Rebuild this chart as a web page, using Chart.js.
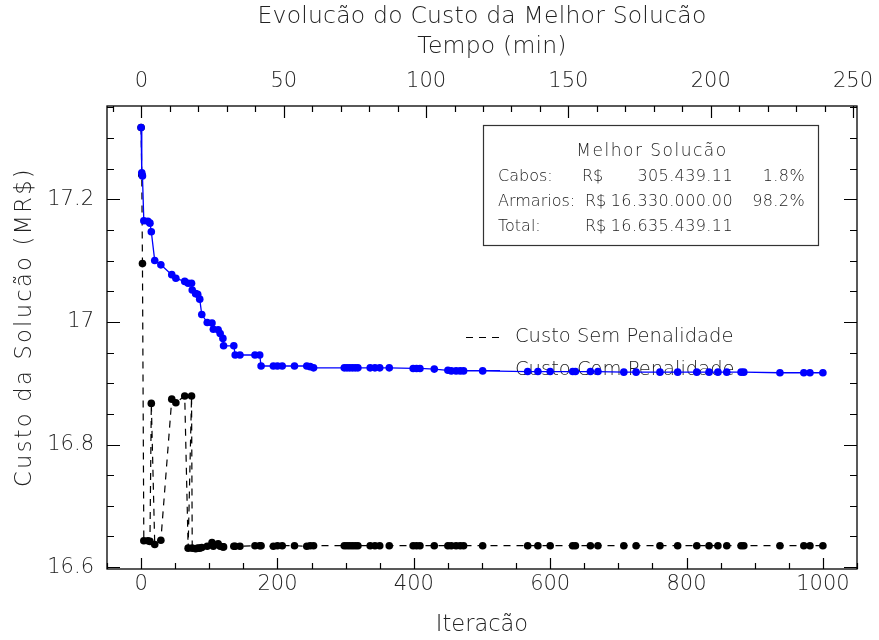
<!DOCTYPE html>
<html>
<head>
<meta charset="utf-8">
<script src="https://cdn.jsdelivr.net/npm/chart.js@4.4.1/dist/chart.umd.min.js"></script>
<style>
  body { margin: 0; background: #fff; }
  #wrap { width: 879px; height: 640px; }
</style>
</head>
<body>
<div id="wrap"><canvas id="myChart" width="879" height="640"></canvas></div>
<script>
// iteracoes em que a melhor solucao mudou
const iteracoes = [0, 1, 2, 4, 10, 13, 15, 20, 29, 45,
  51, 64, 69, 74, 75, 80, 83, 86, 89, 97,
  104, 106, 113, 116, 120, 121, 136, 138, 145, 167,
  174, 176, 194, 200, 207, 225, 243, 248, 253, 298,
  302, 306, 310, 314, 318, 336, 343, 350, 364, 399,
  404, 409, 430, 450, 455, 462, 468, 473, 501, 567,
  582, 600, 633, 637, 659, 670, 708, 726, 761, 787,
  815, 833, 846, 859, 880, 884, 937, 972, 981, 1000];
// custo (MR$) com penalidade
const custoCom = [17.317, 17.243, 17.238, 17.165, 17.164, 17.161, 17.147, 17.100, 17.093, 17.077,
  17.071, 17.066, 17.063, 17.063, 17.052, 17.046, 17.045, 17.037, 17.012, 16.999,
  16.998, 16.988, 16.987, 16.981, 16.973, 16.961, 16.961, 16.946, 16.946, 16.946,
  16.946, 16.928, 16.928, 16.928, 16.928, 16.928, 16.928, 16.927, 16.925, 16.925,
  16.925, 16.925, 16.925, 16.925, 16.925, 16.925, 16.925, 16.925, 16.925, 16.924,
  16.924, 16.924, 16.923, 16.921, 16.920, 16.920, 16.920, 16.920, 16.920, 16.919,
  16.919, 16.919, 16.919, 16.919, 16.919, 16.919, 16.918, 16.918, 16.918, 16.918,
  16.918, 16.918, 16.918, 16.918, 16.918, 16.918, 16.917, 16.917, 16.917, 16.917];
// custo (MR$) sem penalidade
const custoSem = [17.317, 17.240, 17.095, 16.643, 16.643, 16.642, 16.867, 16.637, 16.644, 16.874,
  16.868, 16.879, 16.631, 16.879, 16.631, 16.630, 16.631, 16.631, 16.632, 16.634,
  16.640, 16.634, 16.638, 16.634, 16.633, 16.633, 16.634, 16.634, 16.634, 16.635,
  16.635, 16.635, 16.634, 16.635, 16.635, 16.635, 16.634, 16.635, 16.635, 16.635,
  16.635, 16.635, 16.635, 16.635, 16.635, 16.635, 16.635, 16.635, 16.635, 16.635,
  16.635, 16.635, 16.635, 16.635, 16.635, 16.635, 16.635, 16.635, 16.635, 16.635,
  16.635, 16.635, 16.635, 16.635, 16.635, 16.635, 16.635, 16.635, 16.635, 16.635,
  16.635, 16.635, 16.635, 16.635, 16.635, 16.635, 16.635, 16.635, 16.635, 16.635];

const ticksIteracao = [0, 200, 400, 600, 800, 1000];
const ticksTempo = [0, 50, 100, 150, 200, 250];
const ticksCusto = [16.6, 16.8, 17, 17.2];

// quadro da melhor solucao
const resumoTitulo = "Melhor Solucão";
const resumoRotulos = ["Cabos:", "Armarios:", "Total:"];
const resumoValores = ["305.439.11", "16.330.000.00", "16.635.439.11"];
const resumoPercent = ["1.8%", "98.2%", ""];

const FONTE = "'DejaVu Sans', sans-serif";
const COR_TEXTO = "#222";

const pontos = (ys) => iteracoes.map((x, i) => ({ x: x, y: ys[i] }));

function fixaTicks(lista) {
  return (scale) => { scale.ticks = lista.map((v) => ({ value: v })); };
}

const molduraPlugin = {
  id: "moldura",
  beforeDatasetsDraw(chart) {
    const ctx = chart.ctx;
    ctx.save();
    ctx.font = "200 19.5px " + FONTE;
    ctx.fillStyle = COR_TEXTO;
    ctx.textBaseline = "middle";
    // legenda
    ctx.strokeStyle = "#000";
    ctx.lineWidth = 1.2;
    ctx.setLineDash([7, 6]);
    ctx.beginPath();
    ctx.moveTo(466, 337.5);
    ctx.lineTo(500, 337.5);
    ctx.stroke();
    ctx.setLineDash([]);
    ctx.strokeStyle = "#0000ff";
    ctx.beginPath();
    ctx.moveTo(466, 370.5);
    ctx.lineTo(500, 370.5);
    ctx.stroke();
    ctx.fillText("Custo Sem Penalidade", 515, 337);
    ctx.fillText("Custo Com Penalidade", 515, 370);
    ctx.restore();
  },
  afterDraw(chart) {
    const ctx = chart.ctx;
    const a = chart.chartArea;
    const sx = chart.scales.x, sx2 = chart.scales.x2, sy = chart.scales.y;
    ctx.save();
    ctx.strokeStyle = "#000";
    ctx.lineWidth = 1.3;
    ctx.strokeRect(a.left, a.top, a.right - a.left, a.bottom - a.top);

    ctx.lineWidth = 1.2;
    ctx.beginPath();
    // marcas do eixo de iteracoes (embaixo)
    for (let k = Math.ceil(sx.min / 50); k * 50 <= sx.max; k++) {
      const p = Math.round(sx.getPixelForValue(k * 50)) + 0.5;
      const len = k % 4 === 0 ? 11 : 6;
      ctx.moveTo(p, a.bottom);
      ctx.lineTo(p, a.bottom - len);
    }
    // marcas do eixo de tempo (em cima)
    for (let k = Math.ceil(sx2.min / 10); k * 10 <= sx2.max; k++) {
      const p = Math.round(sx2.getPixelForValue(k * 10)) + 0.5;
      const len = k % 5 === 0 ? 12 : 6;
      ctx.moveTo(p, a.top);
      ctx.lineTo(p, a.top + len);
    }
    // marcas do eixo de custo (esquerda e direita)
    for (let k = Math.ceil(sy.min / 0.05 - 1e-6); k * 0.05 <= sy.max + 1e-9; k++) {
      const p = Math.round(sy.getPixelForValue(k * 0.05)) + 0.5;
      const len = k % 4 === 0 ? 13 : 7;
      ctx.moveTo(a.left, p);
      ctx.lineTo(a.left + len, p);
      ctx.moveTo(a.right, p);
      ctx.lineTo(a.right - len, p);
    }
    ctx.stroke();

    // titulos
    ctx.fillStyle = COR_TEXTO;
    ctx.textBaseline = "middle";
    ctx.textAlign = "center";
    ctx.font = "200 23.5px " + FONTE;
    ctx.letterSpacing = "0.2px";
    ctx.fillText("Evolucão do Custo da Melhor Solucão", 482, 17);
    ctx.fillText("Tempo (min)", 492, 47);
    ctx.save();
    ctx.translate(25, 327);
    ctx.rotate(-Math.PI / 2);
    ctx.font = "200 22.5px " + FONTE;
    ctx.letterSpacing = "2.3px";
    ctx.fillText("Custo da Solucão (MR$)", 0, 0);
    ctx.restore();

    // quadro da melhor solucao
    ctx.lineWidth = 1.2;
    ctx.strokeStyle = "#333";
    ctx.strokeRect(483.5, 125.5, 335, 120);
    ctx.textAlign = "center";
    ctx.font = "200 17px " + FONTE;
    ctx.letterSpacing = "1.5px";
    ctx.fillText(resumoTitulo, 652, 152);
    ctx.font = "200 16px " + FONTE;
    const linhas = [177, 202, 227];
    resumoRotulos.forEach((r, i) => {
      ctx.textAlign = "left";
      ctx.letterSpacing = "0px";
      ctx.fillText(r, 498, linhas[i]);
      ctx.fillText("R$", i === 0 ? 582 : 585, linhas[i]);
      ctx.textAlign = "right";
      ctx.letterSpacing = "0.4px";
      ctx.fillText(resumoValores[i], 733, linhas[i]);
      ctx.fillText(resumoPercent[i], 805, linhas[i]);
    });
    ctx.restore();
  },
};

const data = {
  datasets: [
    {
      label: "Custo Sem Penalidade",
      data: pontos(custoSem),
      borderColor: "#000",
      backgroundColor: "#000",
      borderWidth: 1.2,
      borderDash: [7, 6],
      pointRadius: 3.8,
      pointBorderWidth: 0,
      order: 1,
    },
    {
      label: "Custo Com Penalidade",
      data: pontos(custoCom),
      borderColor: "#0000ff",
      backgroundColor: "#0000ff",
      borderWidth: 1.3,
      pointRadius: 3.8,
      pointBorderWidth: 0,
      order: 0,
    },
  ],
};

const fonteTicks = { family: FONTE, size: 21, weight: "200" };
const fonteTitulo = { family: FONTE, size: 22.5, weight: "200" };

const config = {
  type: "line",
  data: data,
  plugins: [molduraPlugin],
  options: {
    responsive: false,
    animation: false,
    layout: { padding: 0 },
    plugins: { legend: { display: false }, tooltip: { enabled: false } },
    scales: {
      x: {
        type: "linear",
        position: "bottom",
        min: -50,
        max: 1050,
        afterBuildTicks: fixaTicks(ticksIteracao),
        afterFit: (s) => { s.height = 71; },
        grid: { display: false, drawTicks: false },
        border: { display: false },
        ticks: { color: COR_TEXTO, font: fonteTicks, padding: 3, maxRotation: 0, callback: (v) => String(v) },
        title: { display: true, text: "Iteracão", color: COR_TEXTO, font: fonteTitulo, padding: { top: 0, bottom: 1 } },
      },
      x2: {
        type: "linear",
        position: "top",
        min: -12.1,
        max: 251.4,
        afterBuildTicks: fixaTicks(ticksTempo),
        afterFit: (s) => { s.height = 106; },
        // espaco entre rotulos e moldura vem do tickLength (marcas desenhadas no plugin)
        grid: { display: false, drawTicks: true, tickLength: 12 },
        border: { display: false },
        ticks: { color: COR_TEXTO, font: fonteTicks, padding: 0, maxRotation: 0, callback: (v) => String(v) },
      },
      y: {
        type: "linear",
        position: "left",
        min: 16.597,
        max: 17.352,
        afterBuildTicks: fixaTicks(ticksCusto),
        afterFit: (s) => { s.width = 107; },
        grid: { display: false, drawTicks: false },
        border: { display: false },
        ticks: { color: COR_TEXTO, font: fonteTicks, padding: 13, callback: (v) => String(+v.toFixed(1)) },
      },
      y2: {
        type: "linear",
        position: "right",
        min: 16.597,
        max: 17.352,
        afterFit: (s) => { s.width = 22; },
        grid: { display: false, drawTicks: false },
        border: { display: false },
        ticks: { display: false },
      },
    },
  },
};

const myChart = new Chart(document.getElementById("myChart"), config);
</script>
</body>
</html>
